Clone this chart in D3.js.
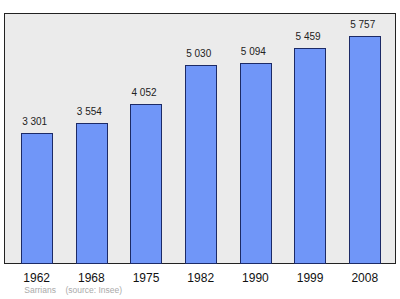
<!DOCTYPE html>
<html><head><meta charset="utf-8">
<script src="https://cdn.jsdelivr.net/npm/d3@7"></script>
<style>body{margin:0;background:#fff}svg{display:block}</style>
</head><body>
<script>
const years = ["1962","1968","1975","1982","1990","1999","2008"];
const population = [3301, 3554, 4052, 5030, 5094, 5459, 5757];
const valueLabels = ["3 301","3 554","4 052","5 030","5 094","5 459","5 757"];
const sourceText = "Sarrians    (source: Insee)";

const W = 400, H = 299;
const frame = {x0: 4.5, x1: 395.5, y0: 13.5, y1: 263.5};
const svg = d3.select("body").append("svg").attr("width", W).attr("height", H);

svg.append("rect").attr("x", frame.x0).attr("y", frame.y0)
  .attr("width", frame.x1 - frame.x0).attr("height", frame.y1 - frame.y0)
  .attr("fill", "#ebebeb").attr("stroke", "#222").attr("stroke-width", 1);

const x = d3.scaleBand().domain(years).range([4.5, 396.9]).paddingInner(0.424).paddingOuter(0.3);
const y = d3.scaleLinear().domain([0, 6340]).range([frame.y1, frame.y0]);

svg.selectAll("rect.bar").data(population).join("rect").attr("class","bar")
  .attr("x", (d,i) => Math.round(x(years[i])) + 0.5)
  .attr("width", Math.round(x.bandwidth()))
  .attr("y", d => Math.round(y(d)) + 0.5)
  .attr("height", d => frame.y1 - (Math.round(y(d)) + 0.5))
  .attr("fill", "#7096f8").attr("stroke", "#1c2a66").attr("stroke-width", 1);

svg.selectAll("text.val").data(population).join("text").attr("class","val")
  .attr("x", (d,i) => x(years[i]) + x.bandwidth()/2 - 2)
  .attr("y", d => y(d) - 8)
  .attr("text-anchor","middle").attr("font-family","Liberation Sans, Arial, sans-serif")
  .attr("font-size", 10).attr("fill","#222")
  .text((d,i) => valueLabels[i]);

const xAxis = d3.axisBottom(x).tickSize(0).tickPadding(0);
const gx = svg.append("g").attr("transform", `translate(0,${frame.y1 + 18.5})`).call(xAxis);
gx.select(".domain").remove();
gx.selectAll("text").attr("font-family","Liberation Sans, Arial, sans-serif")
  .attr("font-size", 12).attr("fill","#111").attr("dy", "0");

svg.append("text").attr("x", 24.3).attr("y", 293)
  .attr("font-family","Liberation Sans, Arial, sans-serif").attr("font-size", 8.5)
  .attr("fill","#aaa").attr("xml:space","preserve").style("white-space","pre")
  .text(sourceText);
</script>
</body></html>
